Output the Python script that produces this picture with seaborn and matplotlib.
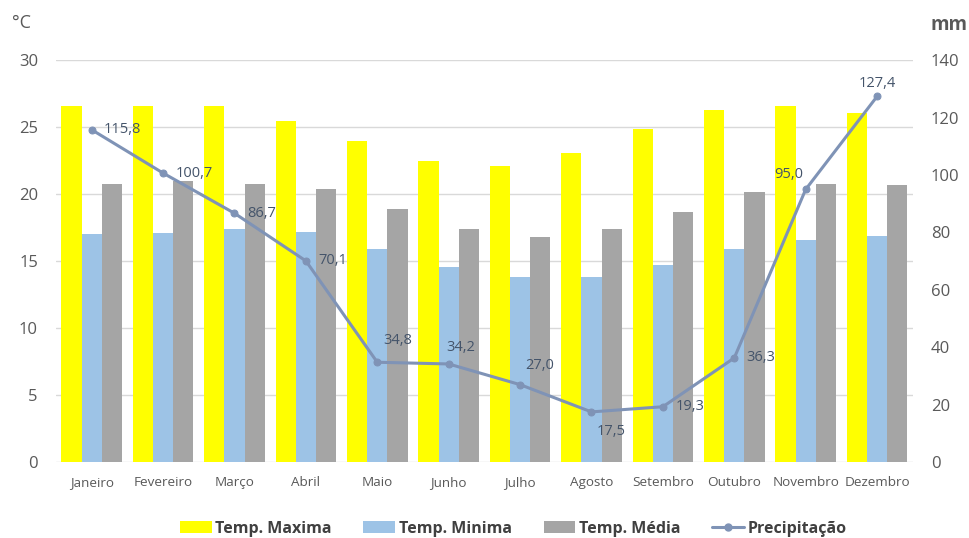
import numpy as np
import pandas as pd
import matplotlib
matplotlib.use("Agg")
import matplotlib.pyplot as plt
from matplotlib.patches import Patch
from matplotlib.lines import Line2D
import seaborn as sns

# ---- data ----
months = ["Janeiro", "Fevereiro", "Março", "Abril", "Maio", "Junho",
          "Julho", "Agosto", "Setembro", "Outubro", "Novembro", "Dezembro"]
temp_max = [26.6, 26.6, 26.6, 25.5, 24.0, 22.5, 22.1, 23.1, 24.9, 26.3, 26.6, 26.1]
temp_min = [17.0, 17.1, 17.4, 17.2, 15.9, 14.6, 13.8, 13.8, 14.7, 15.9, 16.6, 16.9]
temp_med = [20.8, 21.0, 20.8, 20.4, 18.9, 17.4, 16.8, 17.4, 18.7, 20.2, 20.8, 20.7]
precip = [115.8, 100.7, 86.7, 70.1, 34.8, 34.2, 27.0, 17.5, 19.3, 36.3, 95.0, 127.4]
series_names = ["Temp. Maxima", "Temp. Minima", "Temp. Média"]
line_name = "Precipitação"
left_unit = "°C"
right_unit = "mm"

# ---- styles ----
colors = ["#FFFF00", "#9DC3E6", "#A5A5A5"]
line_color = "#7F93B6"
label_color = "#44546A"
tick_color = "#595959"
grid_color = "#D9D9D9"
# label placement per point: (dx pt, dy pt, ha)
label_pos = [(9, 0, "left"), (9, 0, "left"), (9, 0, "left"), (9, 0, "left"),
             (4, 16, "left"), (-1.5, 12, "left"), (3.5, 14, "left"), (4, -14, "left"),
             (9, 0, "left"), (9, 0, "left"), (-1.5, 11, "right"), (0, 9.5, "center")]

sns.set_theme(style="white")
plt.rcParams["font.family"] = ["Open Sans", "DejaVu Sans"]

df = pd.DataFrame({
    "mes": months * 3,
    "serie": sum([[s] * len(months) for s in series_names], []),
    "valor": temp_max + temp_min + temp_med,
})

fig = plt.figure(figsize=(9.7, 5.38), dpi=100)
ax = fig.add_axes([0.0577, 0.141, 0.941 - 0.0577, 0.888 - 0.141])

sns.barplot(data=df, x="mes", y="valor", hue="serie", hue_order=series_names,
            palette=colors, saturation=1, width=0.85, gap=0, ax=ax,
            errorbar=None, legend=False, linewidth=0)

ax.set_ylim(0, 30)
ax.set_yticks(np.arange(0, 31, 5))
ax.set_xlim(-0.5, len(months) - 0.5)
ax.set_xlabel("")
ax.set_ylabel("")
ax.yaxis.grid(True, color=grid_color, linewidth=1)
ax.set_axisbelow(True)
for s in ax.spines.values():
    s.set_visible(False)
ax.tick_params(axis="y", length=0, labelsize=12, labelcolor=tick_color, pad=13)
ax.tick_params(axis="x", length=0, labelsize=9.7, labelcolor=tick_color, pad=10)

ax2 = ax.twinx()
x_pos = np.arange(len(months))
sns.lineplot(x=x_pos, y=precip, ax=ax2, color=line_color, linewidth=2.2,
             marker="o", markersize=5, markeredgecolor=line_color, legend=False)
ax2.set_ylim(0, 140)
ax2.set_yticks(np.arange(0, 141, 20))
ax2.set_xlim(-0.5, len(months) - 0.5)
for s in ax2.spines.values():
    s.set_visible(False)
ax2.tick_params(axis="y", length=0, labelsize=12, labelcolor=tick_color, pad=13)
ax2.grid(False)

for xi, v, (dx, dy, ha) in zip(x_pos, precip, label_pos):
    ax2.annotate(f"{v:.1f}".replace(".", ","), (xi, v), xytext=(dx, dy),
                 textcoords="offset points", ha=ha, va="center",
                 fontsize=10.5, color=label_color)

fig.text(0.012, 0.958, left_unit, fontsize=13, color=tick_color, ha="left", va="center")
fig.text(0.959, 0.953, right_unit, fontsize=13.5, color=tick_color, ha="left",
         va="center", fontweight="bold")

handles = [Patch(facecolor=c, edgecolor="none") for c in colors]
handles.append(Line2D([0], [0], color=line_color, lw=2.2, marker="o", markersize=5))
fig.legend(handles, series_names + [line_name], loc="center",
           bbox_to_anchor=(0.529, 0.017), ncol=4, frameon=False,
           prop={"weight": "bold", "size": 11.5}, labelcolor="#404040",
           handlelength=2.0, handleheight=0.75, handletextpad=0.2, columnspacing=2.0)

fig.savefig("out.png", dpi=100)
